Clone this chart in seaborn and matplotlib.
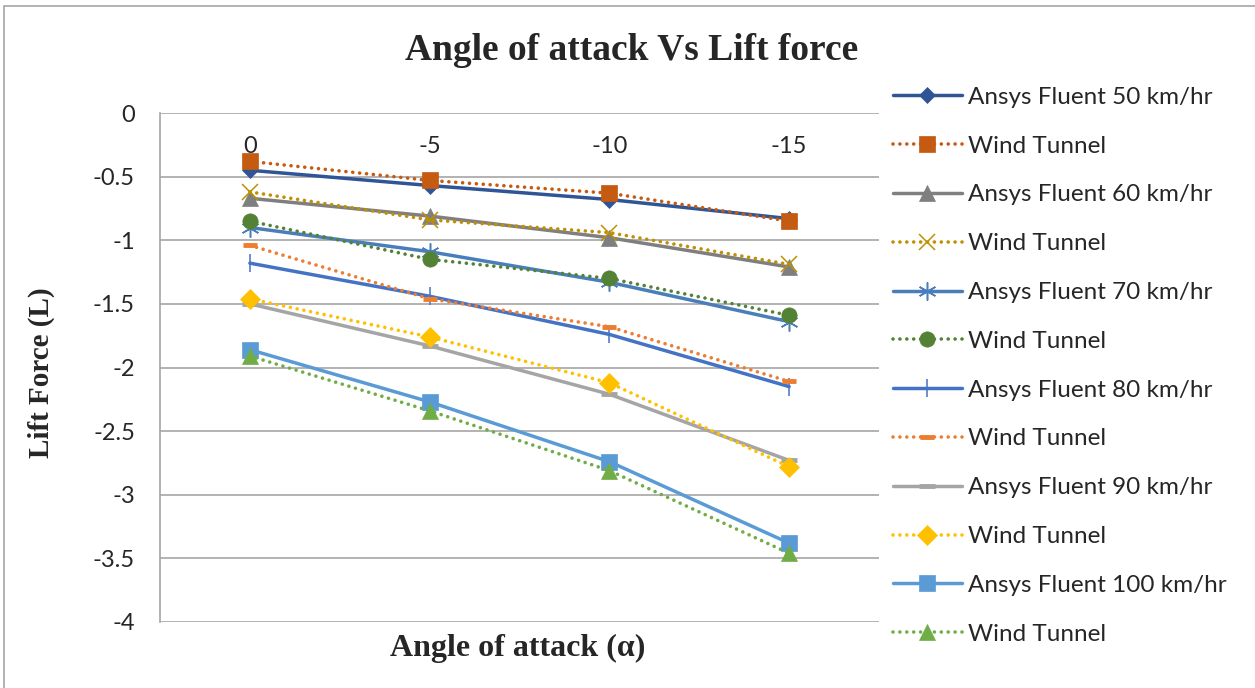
import pandas as pd
import matplotlib.pyplot as plt
import seaborn as sns
from matplotlib.patches import Rectangle

# --- Data ---
ANGLES = ["0", "-5", "-10", "-15"]

LABELS = [
    "Ansys Fluent 50 km/hr", "Wind Tunnel",
    "Ansys Fluent 60 km/hr", "Wind Tunnel",
    "Ansys Fluent 70 km/hr", "Wind Tunnel",
    "Ansys Fluent 80 km/hr", "Wind Tunnel",
    "Ansys Fluent 90 km/hr", "Wind Tunnel",
    "Ansys Fluent 100 km/hr", "Wind Tunnel",
]

fluent_50 = [-0.45, -0.57, -0.68, -0.83]
tunnel_50 = [-0.38, -0.53, -0.63, -0.85]
fluent_60 = [-0.67, -0.81, -0.98, -1.21]
tunnel_60 = [-0.62, -0.84, -0.94, -1.19]
fluent_70 = [-0.90, -1.09, -1.33, -1.64]
tunnel_70 = [-0.85, -1.15, -1.30, -1.59]
fluent_80 = [-1.18, -1.44, -1.74, -2.15]
tunnel_80 = [-1.04, -1.46, -1.68, -2.11]
fluent_90 = [-1.50, -1.83, -2.21, -2.73]
tunnel_90 = [-1.46, -1.76, -2.12, -2.78]
fluent_100 = [-1.86, -2.27, -2.74, -3.38]
tunnel_100 = [-1.91, -2.34, -2.81, -3.46]

SERIES = [fluent_50, tunnel_50, fluent_60, tunnel_60, fluent_70, tunnel_70,
          fluent_80, tunnel_80, fluent_90, tunnel_90, fluent_100, tunnel_100]

# --- Styles ---
COLORS = ["#2F5597", "#C55A11", "#7F7F7F", "#BF9000", "#4A7EBB", "#548235",
          "#4472C4", "#ED7D31", "#A5A5A5", "#FFC000", "#5B9BD5", "#70AD47"]
ASTERISK = (6, 2, 0)
MARKERS = ["D", "s", "^", "x", ASTERISK, "o", "|", "_", "_", "D", "s", "^"]
MSIZES = [8, 11, 11, 11, 13, 11, 13, 10, 12, 10, 11, 11]
DOTTED = (0, (0.01, 1.9))

sns.set_style("white")
plt.rcParams["font.family"] = ["Lato", "DejaVu Sans"]

fig = plt.figure(figsize=(12.55, 6.88), dpi=100)
ax = fig.add_axes([160 / 1255, 1 - 622 / 688, (879 - 160) / 1255, (622 - 113) / 688])

for i, (vals, lab) in enumerate(zip(SERIES, LABELS)):
    df = pd.DataFrame({"angle": ANGLES, "lift": vals})
    solid = i % 2 == 0
    mk = MARKERS[i]
    thin = mk in ("x", "|") or mk == ASTERISK
    sns.lineplot(
        data=df, x="angle", y="lift", ax=ax, color=COLORS[i], label=lab,
        sort=False, marker=mk, markersize=MSIZES[i],
        markeredgewidth=1.1 if thin else (3.5 if mk == "_" else 0.5),
        markeredgecolor=COLORS[i],
        linewidth=2.5 if solid else 2.6,
        linestyle="-" if solid else DOTTED,
        dash_capstyle="round",
    )

ax.set_xlim(-0.5, 3.5)
ax.set_ylim(-4, 0)
ax.set_yticks([0, -0.5, -1, -1.5, -2, -2.5, -3, -3.5, -4])
ax.set_yticklabels(["0", "-0.5", "-1", "-1.5", "-2", "-2.5", "-3", "-3.5", "-4"])
ax.grid(axis="y", color="#A6A6A6", linewidth=1.2)
ax.grid(axis="x", visible=False)
for s in ["right", "bottom", "top"]:
    ax.spines[s].set_visible(False)
ax.spines["left"].set_color("#A6A6A6")
ax.spines["left"].set_linewidth(1.2)

ax.tick_params(axis="y", length=0, labelsize=17, pad=18)
ax.tick_params(axis="x", length=0, labelsize=17, top=False, bottom=False,
               labeltop=True, labelbottom=False, pad=-32)

ax.set_xlabel("")
ax.set_ylabel("Lift Force (L)", family="Liberation Serif", weight="bold", fontsize=21)
ax.yaxis.set_label_coords(-0.146, 0.49)
fig.text(518 / 1255, 1 - 648 / 688, "Angle of attack (\u03b1)", family="Liberation Serif",
         weight="bold", fontsize=23, ha="center", va="center")
fig.text(632 / 1255, 1 - 50 / 688, "Angle of attack Vs Lift force", family="Liberation Serif",
         weight="bold", fontsize=27, ha="center", va="center")

leg = ax.legend(loc="upper left", bbox_to_anchor=(883 / 1255, 1 - 77 / 688),
                bbox_transform=fig.transFigure, frameon=False, fontsize=17.5,
                handlelength=2.85, handletextpad=0.25, labelspacing=1.144, borderaxespad=0)

# chart area border (only left/top visible in the crop)
fig.patches.append(Rectangle((4 / 1255, -0.05), 1.2, 1 - 6 / 688 + 0.05, transform=fig.transFigure,
                             fill=False, edgecolor="#A6A6A6", linewidth=1.2))

fig.savefig("out.png", dpi=100)
